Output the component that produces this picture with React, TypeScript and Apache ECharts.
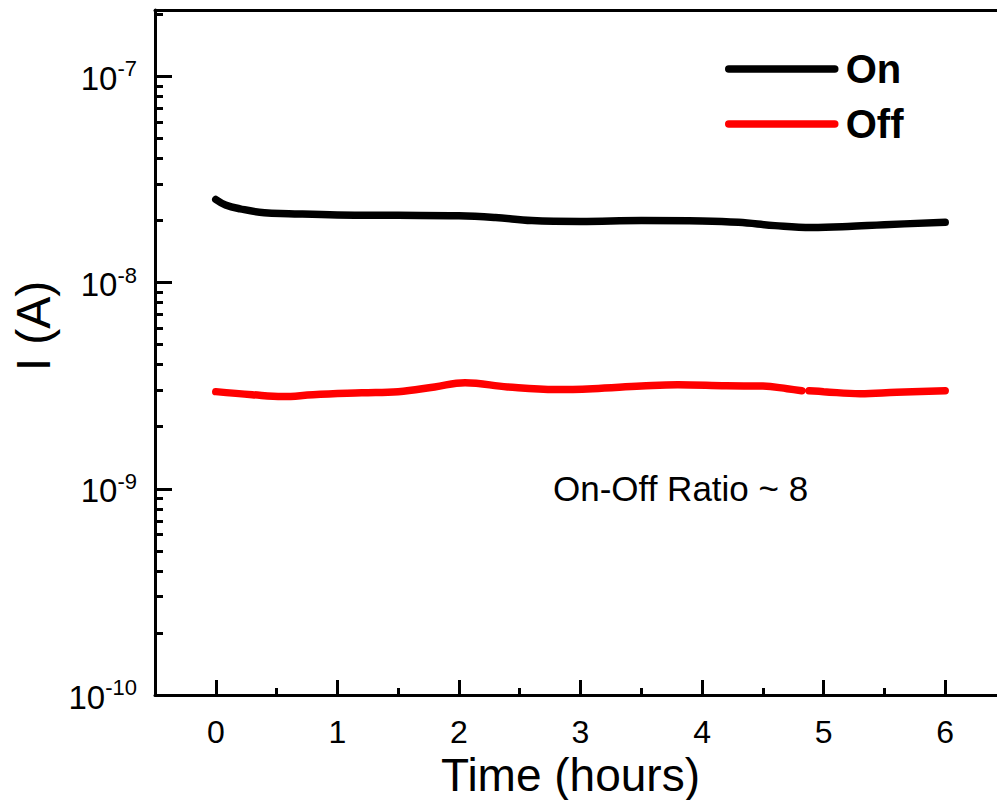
import React, { useEffect, useRef } from "react";
import * as echarts from "echarts";

// Time in hours and measured current (A) for the on and off states
const onTime = [0, 0.08, 0.2, 0.4, 0.6, 1.0, 1.5, 2.0, 2.3, 2.6, 3.0, 3.5, 4.0, 4.3, 4.6, 4.9, 5.2, 5.5, 6.0];
const onCurrent = [
  2.53e-8, 2.38e-8, 2.28e-8, 2.18e-8, 2.16e-8, 2.13e-8, 2.12e-8, 2.11e-8, 2.07e-8, 2.0e-8,
  1.98e-8, 2.0e-8, 1.99e-8, 1.96e-8, 1.89e-8, 1.85e-8, 1.87e-8, 1.91e-8, 1.96e-8,
];

const offTime = [0, 0.3, 0.55, 0.8, 1.2, 1.5, 1.8, 2.05, 2.4, 2.8, 3.1, 3.5, 3.8, 4.2, 4.5, 4.7, 4.82, 4.85, 4.88, 5.0, 5.3, 5.6, 6.0];
const offCurrent: (number | null)[] = [
  2.96e-9, 2.86e-9, 2.8e-9, 2.86e-9, 2.92e-9, 2.96e-9, 3.12e-9, 3.27e-9, 3.12e-9, 3.03e-9,
  3.06e-9, 3.15e-9, 3.2e-9, 3.16e-9, 3.15e-9, 3.06e-9, 2.99e-9, null, 2.99e-9, 2.96e-9,
  2.89e-9, 2.94e-9, 2.99e-9,
];

const xTicks = [0, 1, 2, 3, 4, 5, 6];
const xMinorTicks = [0.5, 1.5, 2.5, 3.5, 4.5, 5.5];
const yDecades = [1e-10, 1e-9, 1e-8, 1e-7];
const yMinorTicks: number[] = [];
for (const d of [1e-10, 1e-9, 1e-8, 1e-7]) {
  for (let k = 2; k <= 9; k++) {
    const v = d * k;
    if (v <= 2.1e-7) yMinorTicks.push(v);
  }
}

const FONT = "'Liberation Sans', Arial, sans-serif";

export default function App() {
  const ref = useRef<HTMLDivElement>(null);

  useEffect(() => {
    if (!ref.current) return;
    const chart = echarts.init(ref.current, undefined, { renderer: "svg" });

    const yMin = 1e-10;
    const yMax = 2.1e-7;
    const xMin = -0.5;
    const xMax = 6.5;
    const axisColor = "#000";

    chart.setOption({
      animation: false,
      backgroundColor: "#ffffff",
      textStyle: { fontFamily: FONT },
      // the frame runs past the visible right edge, so its right side stays hidden
      grid: {
        left: 155,
        top: 10,
        bottom: 105,
        right: 6,
        outerBoundsMode: "none",
        containLabel: false,
        show: false,
      },
      legend: {
        orient: "vertical",
        left: 720,
        top: 44,
        itemWidth: 106,
        itemHeight: 40,
        itemGap: 15,
        lineStyle: { width: 7.5, cap: "round" },
        textStyle: {
          fontSize: 40,
          fontWeight: "bold",
          color: "#000",
          fontFamily: FONT,
          padding: [0, 0, 0, 6],
        },
        data: [
          { name: "On", itemStyle: { opacity: 0 } },
          { name: "Off", itemStyle: { opacity: 0 } },
        ],
      },
      xAxis: [
        {
          type: "value",
          min: xMin,
          max: xMax,
          position: "bottom",
          axisLine: { show: true, onZero: false, lineStyle: { color: axisColor, width: 3 } },
          axisTick: {
            show: true,
            inside: true,
            length: 15,
            customValues: xTicks,
            lineStyle: { color: axisColor, width: 3 },
          },
          axisLabel: {
            customValues: xTicks,
            fontSize: 32,
            color: "#000",
            margin: 21,
            fontFamily: FONT,
          },
          splitLine: { show: false },
          name: "Time (hours)",
          nameLocation: "middle",
          nameGap: 80,
          nameMoveOverlap: false,
          nameTextStyle: {
            fontSize: 46,
            color: "#000",
            fontFamily: FONT,
            verticalAlign: "middle",
            padding: [0, 0, 0, -20],
          },
        },
        {
          type: "value",
          min: xMin,
          max: xMax,
          position: "bottom",
          axisLine: { show: false, onZero: false },
          axisTick: {
            show: true,
            inside: true,
            length: 7,
            customValues: xMinorTicks,
            lineStyle: { color: axisColor, width: 3 },
          },
          axisLabel: { show: false },
          splitLine: { show: false },
        },
        {
          // top frame line
          type: "value",
          min: xMin,
          max: xMax,
          position: "top",
          axisLine: { show: true, onZero: false, lineStyle: { color: axisColor, width: 3 } },
          axisTick: { show: false },
          axisLabel: { show: false },
          splitLine: { show: false },
        },
      ],
      yAxis: [
        {
          type: "log",
          logBase: 10,
          min: yMin,
          max: yMax,
          position: "left",
          axisLine: { show: true, onZero: false, lineStyle: { color: axisColor, width: 3 } },
          axisTick: {
            show: true,
            inside: true,
            length: 17,
            customValues: yDecades,
            lineStyle: { color: axisColor, width: 3 },
          },
          axisLabel: {
            customValues: yDecades,
            margin: 18,
            color: "#000",
            formatter: (v: number) => `{b|10}{s|${Math.round(Math.log10(v))}}`,
            rich: {
              b: { fontSize: 33, color: "#000", fontFamily: FONT, verticalAlign: "bottom" },
              s: {
                fontSize: 22,
                color: "#000",
                fontFamily: FONT,
                verticalAlign: "bottom",
                padding: [0, 0, 15, 0],
              },
            },
          },
          splitLine: { show: false },
        },
        {
          type: "log",
          logBase: 10,
          min: yMin,
          max: yMax,
          position: "left",
          axisLine: { show: false, onZero: false },
          axisTick: {
            show: true,
            inside: true,
            length: 8,
            customValues: yMinorTicks,
            lineStyle: { color: axisColor, width: 3 },
          },
          axisLabel: { show: false },
          splitLine: { show: false },
        },
      ],
      graphic: [
        {
          type: "text",
          x: 33,
          y: 326,
          rotation: Math.PI / 2,
          style: {
            text: "I (A)",
            font: `48px ${FONT}`,
            fill: "#000",
            align: "center",
            verticalAlign: "middle",
          },
        },
        {
          type: "text",
          left: 553,
          top: 471,
          style: {
            text: "On-Off Ratio ~ 8",
            font: `35px ${FONT}`,
            fill: "#000",
          },
        },
      ],
      series: [
        {
          name: "On",
          type: "line",
          xAxisIndex: 0,
          yAxisIndex: 0,
          data: onTime.map((t, i) => [t, onCurrent[i]]),
          smooth: 0.4,
          showSymbol: false,
          symbol: "none",
          lineStyle: { color: "#000000", width: 7.5, cap: "round" },
          itemStyle: { color: "#000000" },
        },
        {
          name: "Off",
          type: "line",
          xAxisIndex: 0,
          yAxisIndex: 0,
          data: offTime.map((t, i) => [t, offCurrent[i]]),
          connectNulls: false,
          smooth: 0.4,
          showSymbol: false,
          symbol: "none",
          lineStyle: { color: "#ff0000", width: 7.5, cap: "round" },
          itemStyle: { color: "#ff0000" },
        },
      ],
    });

    return () => chart.dispose();
  }, []);

  return (
    <div
      style={{
        position: "absolute",
        left: 0,
        top: 0,
        width: 997,
        height: 800,
        overflow: "hidden",
        background: "#fff",
      }}
    >
      <div ref={ref} style={{ width: 1012, height: 800 }} />
    </div>
  );
}
